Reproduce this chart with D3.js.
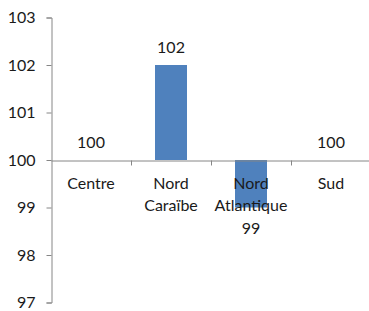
<!DOCTYPE html>
<html>
<head>
<meta charset="utf-8">
<script src="https://cdn.jsdelivr.net/npm/d3@7"></script>
<style>
  html, body { margin: 0; padding: 0; background: #fff; }
  svg { display: block; }
  text { font-family: Lato, "Open Sans", sans-serif; font-size: 16px; fill: #1a1a1a; }
</style>
</head>
<body>
<script>
// chart data
const categories = ["Centre", "Nord\nCaraïbe", "Nord\nAtlantique", "Sud"];
const values = [100, 102, 99, 100];
const yTicks = [97, 98, 99, 100, 101, 102, 103];
const baseline = 100;

const W = 369, H = 311;
const svg = d3.select("body").append("svg").attr("width", W).attr("height", H);
const g = svg.append("g");

// scales
const y = d3.scaleLinear().domain([97, 103]).range([302.5, 17.5]);
const x = d3.scaleBand().domain(categories).range([51, 371])
    .paddingInner(0.6).paddingOuter(0.3);
const xEdge = d3.scaleLinear().domain([0, categories.length]).range([51, 371]);

// bars
g.append("g").attr("class", "bars")
  .selectAll("rect").data(categories).enter()
  .append("rect")
    .attr("x", c => x(c))
    .attr("width", x.bandwidth())
    .attr("y", (c, i) => y(Math.max(values[i], baseline)))
    .attr("height", (c, i) => Math.abs(y(values[i]) - y(baseline)))
    .attr("fill", "#4f81bd");

// y axis
const axisY = g.append("g").attr("class", "axis_y")
  .attr("transform", "translate(51.5,0)")
  .call(d3.axisLeft(y).tickValues(yTicks).tickSize(5).tickPadding(11).tickFormat(d3.format("d")));
axisY.select(".domain").attr("stroke", "#868686");
axisY.selectAll(".tick line").attr("stroke", "#868686");
axisY.selectAll(".tick text").attr("font-family", null).attr("font-size", null).attr("fill", null);

// x axis crossing at the baseline
const axisX = g.append("g").attr("class", "axis_x")
  .attr("transform", `translate(0,${Math.round(y(baseline)) + 0.5})`)
  .call(d3.axisBottom(xEdge).tickValues(d3.range(1, categories.length)).tickSize(5).tickSizeOuter(0).tickFormat(""));
axisX.select(".domain").attr("stroke", "#868686");
axisX.selectAll(".tick line").attr("stroke", "#868686");

// category labels
const cat = g.append("g").attr("class", "cat_labels")
  .selectAll("text").data(categories).enter()
  .append("text")
    .attr("text-anchor", "middle")
    .attr("y", y(baseline) + 29);
cat.selectAll("tspan").data(c => c.split("\n").map(t => ({t, c}))).enter()
  .append("tspan")
    .attr("x", d => x(d.c) + x.bandwidth() / 2)
    .attr("dy", (d, i) => i ? 22 : 0)
    .text(d => d.t);

// value labels
g.append("g").attr("class", "value_labels")
  .selectAll("text").data(categories).enter()
  .append("text")
    .attr("text-anchor", "middle")
    .attr("x", c => x(c) + x.bandwidth() / 2)
    .attr("y", (c, i) => values[i] >= baseline ? y(values[i]) - 12 : y(values[i]) + 26)
    .text((c, i) => values[i]);
</script>
</body>
</html>
